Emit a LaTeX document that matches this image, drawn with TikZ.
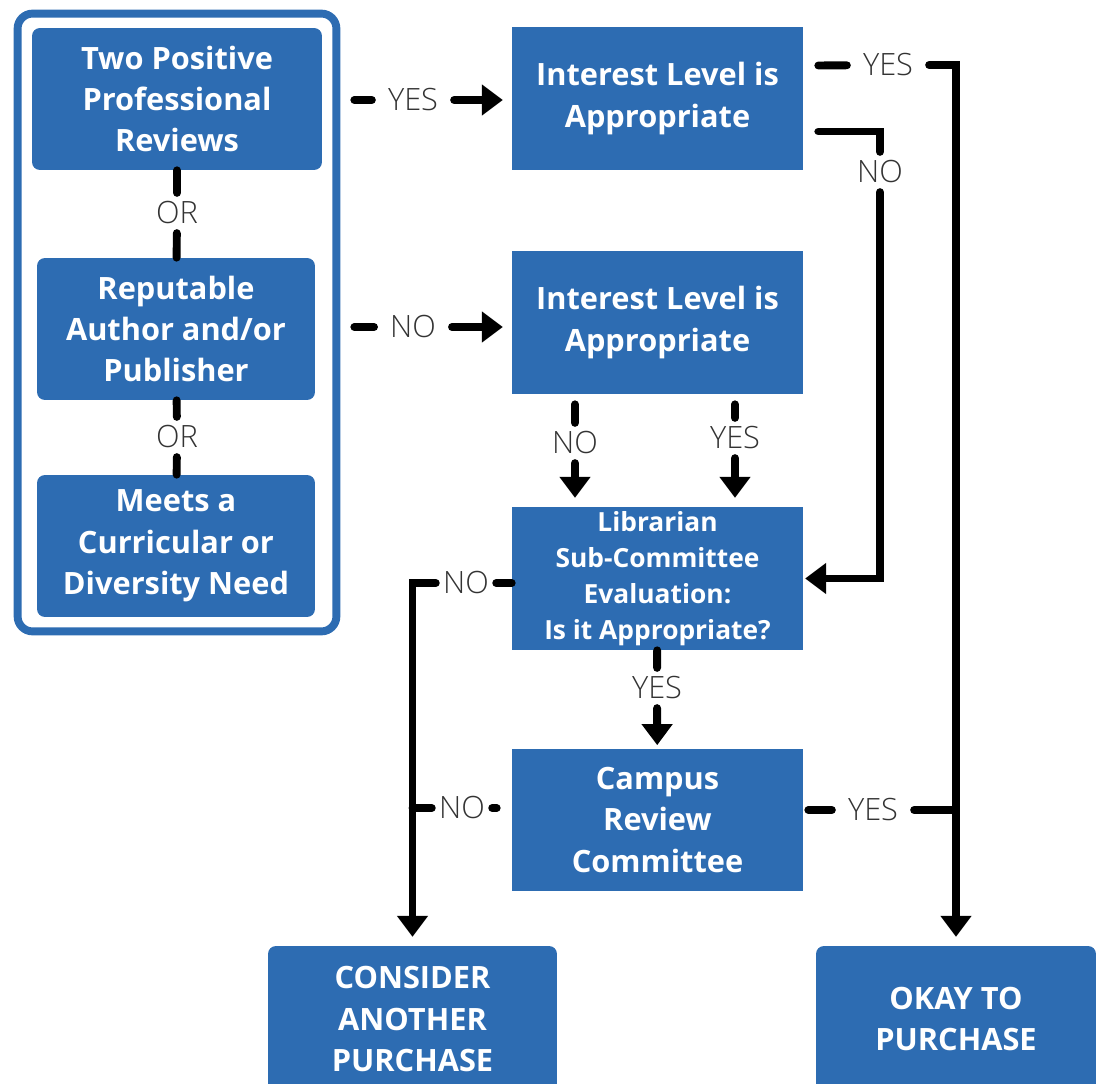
\documentclass[tikz,border=0pt]{standalone}
\usepackage{fontspec}
\setmainfont{Open Sans}
\newfontfamily\lightfont{Open Sans Light}
\usetikzlibrary{arrows.meta,calc,fit}
\definecolor{boxblue}{RGB}{45,108,178}
\definecolor{lblgray}{RGB}{51,51,51}
\tikzset{
  box/.style={fill=boxblue, text=white, font=\fontsize{17.5}{23.5}\selectfont\bfseries, align=center, minimum width=5.82cm, minimum height=2.86cm, inner sep=0pt},
  rbox/.style={box, rounded corners=4.5pt},
  frame/.style={draw=boxblue, line width=4.5pt, rounded corners=8.5pt, inner sep=8pt},
  lbl/.style={font=\fontsize{17.5}{21}\selectfont\lightfont, text=lblgray, inner xsep=9pt, inner ysep=5pt, text height=12.5pt, text depth=0pt},
  tight/.style={inner xsep=4pt},
  line/.style={line width=4.5pt, line cap=round},
  arrow/.style={line, -{Triangle[length=12pt,width=17pt]}, shorten >=5pt},
}
\begin{document}
\begin{tikzpicture}[x=0.02cm, y=-0.02cm]
\useasboundingbox (0,0) rectangle (1096,1084);
\node[rbox, minimum width=5.8cm, minimum height=2.84cm] (rev) at (177,99) {Two Positive\\Professional\\Reviews};
\node[rbox, minimum width=5.56cm, minimum height=2.84cm] (pub) at (176,329) {Reputable\\Author and/or\\Publisher};
\node[rbox, minimum width=5.56cm, minimum height=2.84cm] (need) at (176,546) {Meets a\\Curricular or\\Diversity Need};
\node[frame, fit=(rev)(pub)(need)] (grp) {};
\node[lbl] (or1) at (177,213) {OR};
\node[lbl] (or2) at (177,437) {OR};
\draw[line] (rev) -- (or1);
\draw[line] (or1) -- (pub);
\draw[line] (pub) -- (or2);
\draw[line] (or2) -- (need);

\node[box] (ia1) at (657.5,98.5) {Interest Level is\\Appropriate};
\node[box] (ia2) at (657.5,322.5) {Interest Level is\\Appropriate};
\node[box, font=\fontsize{15}{20.4}\selectfont\bfseries] (lib) at (657.5,578.5) {Librarian\\Sub-Committee\\Evaluation:\\Is it Appropriate?};
\node[box, minimum height=2.84cm] (cam) at (657.5,820) {Campus\\Review\\Committee};
\node[rbox, minimum width=5.78cm, minimum height=2.92cm] (other) at (412.5,1019) {CONSIDER\\ANOTHER\\PURCHASE};
\node[rbox, minimum width=5.6cm, minimum height=2.92cm] (ok) at (956,1019) {OKAY TO\\PURCHASE};

\node[lbl] (y1) at (413,100) {YES};
\node[lbl] (n1) at (413,327) {NO};
\node[lbl] (y2) at (888,65) {YES};
\node[lbl] (n2) at (880,172) {NO};
\node[lbl] (n3) at (575,443) {NO};
\node[lbl] (y3) at (735,438) {YES};
\node[lbl, tight] (n4) at (466,583) {NO};
\node[lbl] (y4) at (657,688) {YES};
\node[lbl, tight] (n5) at (462,808) {NO};
\node[lbl] (y5) at (873,810) {YES};

\draw[line] ($(grp.east |- y1)+(14,0)$) -- (y1);
\draw[arrow] (y1) -- (y1 -| ia1.west);
\draw[line] ($(grp.east |- n1)+(14,0)$) -- (n1);
\draw[arrow] (n1) -- (n1 -| ia2.west);

\draw[line] ($(ia1.east)+(15,-33)$) -- (y2);
\draw[arrow] (y2) -| (ok);
\draw[line] ($(ia1.east)+(15,33)$) -| (n2);
\draw[arrow, shorten >=1pt] (n2) |- (lib);

\draw[line] ($(ia2.south -| n3)+(0,10)$) -- (n3);
\draw[arrow] (n3) -- (n3 |- lib.north);
\draw[line] ($(ia2.south -| y3)+(0,10)$) -- (y3);
\draw[arrow] (y3) -- (y3 |- lib.north);

\draw[line] (lib.west |- n4) -- (n4);
\draw[arrow] (n4) -| (other);
\draw[line] (lib) -- (y4);
\draw[arrow, shorten >=2pt] (y4) -- (cam);

\draw[line] ($(cam.west |- n5)+(-15,0)$) -- (n5);
\draw[line] (n5) -- (n5 -| other);
\draw[line] ($(cam.east |- y5)+(5,0)$) -- (y5);
\draw[line] (y5) -- (y5 -| ok);
\end{tikzpicture}
\end{document}
